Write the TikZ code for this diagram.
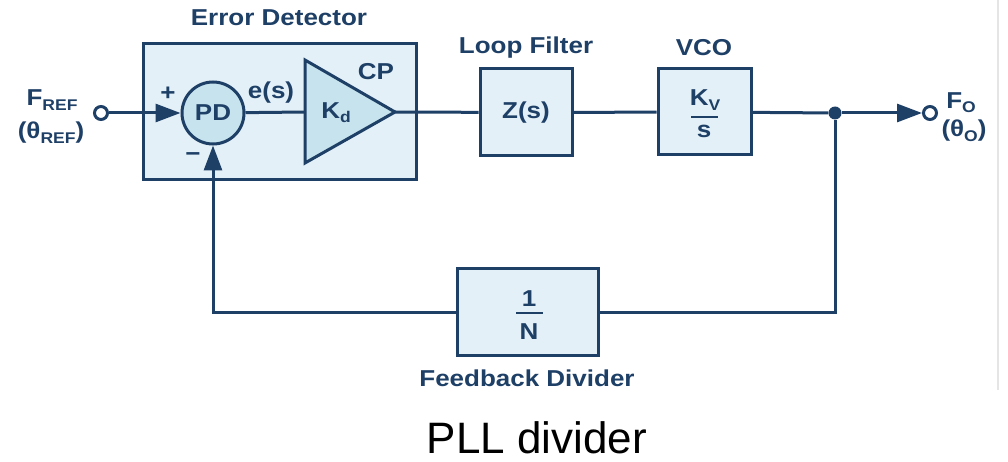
\documentclass[tikz,border=0pt]{standalone}
\usepackage{fontspec}
\setmainfont{Liberation Sans}[FakeStretch=1.13]
\newfontfamily\capfont{Liberation Sans}
\usetikzlibrary{arrows.meta,shapes.geometric}
\definecolor{navy}{HTML}{1E3F66}
\definecolor{boxfill}{HTML}{E3F0F7}
\definecolor{pdfill}{HTML}{C6E3EE}
\newcommand{\dsub}[1]{\raisebox{-0.35ex}{\fontsize{15.5}{15.5}\selectfont #1}}
\begin{document}
\begin{tikzpicture}[x=1pt,y=-1pt,
  line/.style={draw=navy,line width=3pt},
  blk/.style={draw=navy,line width=3pt,fill=boxfill,inner sep=0pt},
  lbl/.style={text=navy,font=\fontsize{23}{25}\selectfont\bfseries,inner sep=0pt},
  arr/.style={-{Triangle[length=25pt,width=18pt]}},
  port/.style={circle,draw=navy,line width=3pt,fill=white,minimum size=13pt,inner sep=0pt},
]
\useasboundingbox (0,0) rectangle (1008,462);
\draw[gray!20, line width=1.5pt] (998,0) -- (998,390);

% Error detector block
\node[blk, minimum width=273pt, minimum height=136pt] (ed) at (279.5,112) {};
\node[lbl] (edl) at (279,18) {Error Detector};
\node[circle, draw=navy, line width=3pt, fill=pdfill, minimum size=62pt, lbl] (pd) at (213,113) {PD};
\draw[navy, line width=3pt, fill=pdfill, line join=miter] (305,60) -- (395,112) -- (305,163) -- cycle;
\coordinate (cpin) at (305,112);
\coordinate (cpout) at (395,112);
\node[lbl] (kd) at (336,113) {K\dsub{d}};
\node[lbl] (cp) at (376,72) {CP};
\node[lbl] (es) at (271,93) {e(s)};
\node[lbl] (plus) at (168,94) {+};
\node[lbl] (minus) at (193,157) {−};

% Loop filter
\node[blk, minimum width=92pt, minimum height=87pt, lbl] (lf) at (526,112.5) {Z(s)};
\node[lbl] (lfl) at (526,48) {Loop Filter};

% VCO
\node[blk, minimum width=93pt, minimum height=86pt] (vco) at (704.5,112) {};
\node[lbl] (vcol) at (704,48) {VCO};
\node[lbl] (kv) at (705,100) {K\dsub{V}};
\draw[navy, line width=2pt] (691,117) -- (718,117);
\node[lbl] (s) at (704,131) {s};

% Feedback divider
\node[blk, minimum width=141pt, minimum height=87pt] (fb) at (527.5,312) {};
\node[lbl] (one) at (529,299) {1};
\draw[navy, line width=2pt] (516,313) -- (543,313);
\node[lbl] (nn) at (529,332) {N};
\node[lbl] (fbl) at (527,378) {Feedback Divider};

% Ports
\node[port] (in) at (101,113) {};
\node[port] (out) at (930,113) {};
\node[circle, fill=navy, minimum size=13pt, inner sep=0pt] (dot) at (835,113) {};
\node[lbl] (fref) at (52,100) {F\dsub{REF}};
\node[lbl] (tref) at (51,133) {(θ\dsub{REF})};
\node[lbl] (fo) at (961,103) {F\dsub{O}};
\node[lbl] (to) at (964,131) {(θ\dsub{O})};

% Connectors
\draw[line, arr] (in) -- (pd);
\draw[line] (pd) -- (cpin);
\draw[line] (cpout) -- (lf);
\draw[line] (lf) -- (vco);
\draw[line] (vco) -- (dot);
\draw[line, arr] (dot) -- (out);
\draw[line] (dot) |- (fb);
\draw[line, arr] (fb) -| (pd);

% Caption
\node[font=\capfont\fontsize{44}{46}\selectfont, inner sep=0pt, anchor=base] (cap) at (537,453) {PLL divider};
\end{tikzpicture}
\end{document}
